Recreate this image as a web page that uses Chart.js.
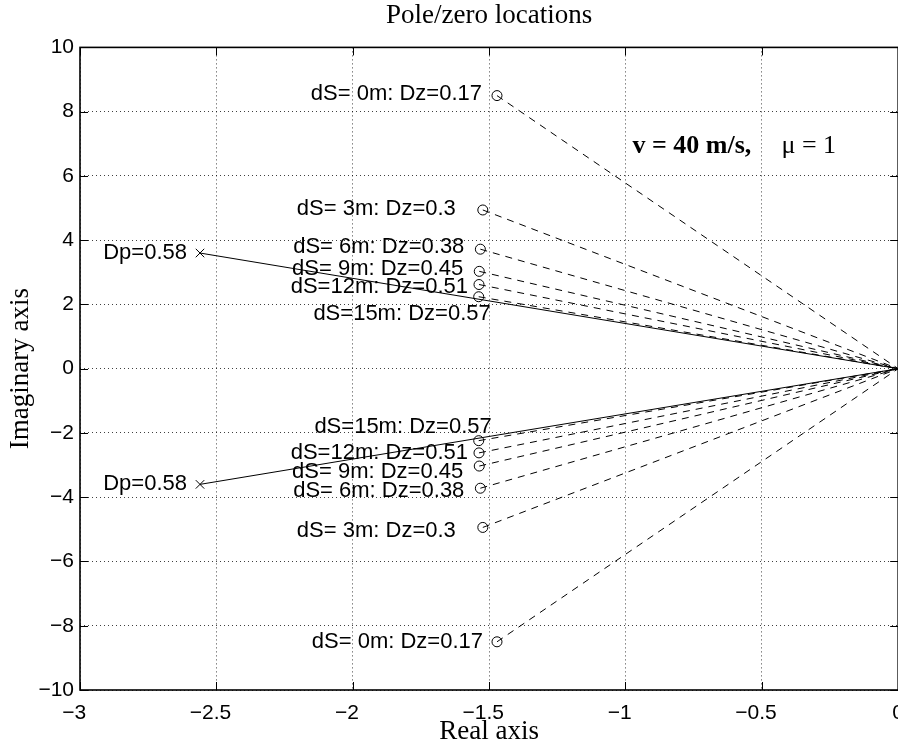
<!DOCTYPE html>
<html>
<head>
<meta charset="utf-8">
<script src="https://cdn.jsdelivr.net/npm/chart.js@4/dist/chart.umd.min.js"></script>
<style>
  html, body { margin: 0; padding: 0; background: #fff; overflow: hidden; }
  /* the plot box runs to the right edge, so the last x label is cut off */
  #wrap { width: 898px; height: 745px; overflow: hidden; }
</style>
</head>
<body>
<div id="wrap"><canvas id="pz" width="915" height="745"></canvas></div>
<script>
// zeros for each sensor distance dS (upper half, then conjugates)
const zeroLabels = [
  'dS= 0m: Dz=0.17', 'dS= 3m: Dz=0.3', 'dS= 6m: Dz=0.38',
  'dS= 9m: Dz=0.45', 'dS=12m: Dz=0.51', 'dS=15m: Dz=0.57',
  'dS= 0m: Dz=0.17', 'dS= 3m: Dz=0.3', 'dS= 6m: Dz=0.38',
  'dS= 9m: Dz=0.45', 'dS=12m: Dz=0.51', 'dS=15m: Dz=0.57'
];
const zeroRe = [-1.471, -1.523, -1.532, -1.536, -1.537, -1.538,
                -1.471, -1.523, -1.532, -1.536, -1.537, -1.538];
const zeroIm = [8.5, 4.94, 3.72, 3.03, 2.62, 2.24,
                -8.5, -4.94, -3.72, -3.03, -2.62, -2.24];

// open-loop pole pair
const poleLabels = ['Dp=0.58', 'Dp=0.58'];
const poleRe = [-2.56, -2.56];
const poleIm = [3.6, -3.6];

const xTicks = [-3, -2.5, -2, -1.5, -1, -0.5, 0];
const yTicks = [-10, -8, -6, -4, -2, 0, 2, 4, 6, 8, 10];

// where each text sits relative to its marker (px): right end, vertical centre
const zeroLabelShift = [
  [-15, -2], [-27, -1], [-16, -2], [-16, -2], [-11, 2], [12, 17],
  [-14, 0], [-27, 4], [-16, 3], [-16, 6], [-11, 0], [13, -14]
];
const poleLabelShift = [[-13, 0], [-13, 0]];

const sans = '"Liberation Sans", Arial, Helvetica, sans-serif';
const serif = '"Liberation Serif", "Times New Roman", Times, serif';
const minus = v => (v < 0 ? '\u2212' + Math.abs(v) : String(v));

const datasets = [];
zeroRe.forEach((re, i) => {
  datasets.push({
    data: [{ x: re, y: zeroIm[i] }, { x: 0, y: 0 }],
    showLine: true, borderColor: '#000', borderWidth: 1,
    borderDash: [7, 6], pointRadius: 0
  });
});
poleRe.forEach((re, i) => {
  datasets.push({
    data: [{ x: re, y: poleIm[i] }, { x: 0, y: 0 }],
    showLine: true, borderColor: '#000', borderWidth: 1, pointRadius: 0
  });
});
datasets.push({
  data: zeroRe.map((re, i) => ({ x: re, y: zeroIm[i] })),
  pointStyle: 'circle', pointRadius: 5, borderWidth: 1,
  borderColor: '#000', backgroundColor: 'rgba(0,0,0,0)'
});
datasets.push({
  data: poleRe.map((re, i) => ({ x: re, y: poleIm[i] })),
  pointStyle: 'crossRot', pointRadius: 6, borderWidth: 1,
  borderColor: '#000', backgroundColor: 'rgba(0,0,0,0)'
});

// text labels go under the lines
const pzLabels = {
  id: 'pzLabels',
  beforeDatasetsDraw(chart) {
    const { ctx, scales: { x, y } } = chart;
    ctx.save();
    ctx.fillStyle = '#000';
    ctx.font = '22px ' + sans;
    ctx.textAlign = 'right';
    ctx.textBaseline = 'middle';
    zeroLabels.forEach((t, i) => {
      ctx.fillText(t, x.getPixelForValue(zeroRe[i]) + zeroLabelShift[i][0],
                      y.getPixelForValue(zeroIm[i]) + zeroLabelShift[i][1]);
    });
    poleLabels.forEach((t, i) => {
      ctx.fillText(t, x.getPixelForValue(poleRe[i]) + poleLabelShift[i][0],
                      y.getPixelForValue(poleIm[i]) + poleLabelShift[i][1]);
    });
    ctx.textAlign = 'left';
    ctx.textBaseline = 'alphabetic';
    ctx.font = 'bold 26px ' + serif;
    ctx.fillText('v = 40 m/s,', x.getPixelForValue(-0.974), y.getPixelForValue(6.7));
    ctx.font = '26px ' + serif;
    ctx.fillText('\u03bc = 1', x.getPixelForValue(-0.428), y.getPixelForValue(6.7));
    ctx.restore();
  }
};

// axes box with inward tick marks
const pzFrame = {
  id: 'pzFrame',
  afterDatasetsDraw(chart) {
    const { ctx, chartArea: a, scales: { x, y } } = chart;
    ctx.save();
    ctx.strokeStyle = '#000';
    ctx.lineWidth = 1;
    ctx.beginPath();
    xTicks.forEach(v => {
      const px = Math.round(x.getPixelForValue(v)) + 0.5;
      ctx.moveTo(px, a.bottom); ctx.lineTo(px, a.bottom - 8);
      ctx.moveTo(px, a.top); ctx.lineTo(px, a.top + 8);
    });
    yTicks.forEach(v => {
      const py = Math.round(y.getPixelForValue(v)) + 0.5;
      ctx.moveTo(a.left, py); ctx.lineTo(a.left + 8, py);
      ctx.moveTo(a.right, py); ctx.lineTo(a.right - 8, py);
    });
    ctx.stroke();
    ctx.lineWidth = 1.6;
    ctx.strokeRect(a.left, a.top, a.right - a.left, a.bottom - a.top);
    ctx.restore();
  }
};

new Chart(document.getElementById('pz'), {
  type: 'scatter',
  data: { datasets: datasets },
  options: {
    responsive: false,
    animation: false,
    events: [],
    layout: { padding: 0 },
    plugins: {
      legend: { display: false },
      tooltip: { enabled: false },
      title: {
        display: true,
        fullSize: false,
        text: 'Pole/zero locations',
        color: '#000',
        font: { family: serif, size: 27, weight: 'normal' },
        padding: { top: 0, bottom: 15 }
      }
    },
    scales: {
      x: {
        type: 'linear', min: -3, max: 0,
        afterBuildTicks: s => { s.ticks = xTicks.map(v => ({ value: v })); },
        afterFit: s => { s.height = 55; },
        ticks: {
          color: '#000', padding: 11, maxRotation: 0, autoSkip: false,
          font: { family: sans, size: 21 },
          // pad negatives so the number sits a little left of its tick
          callback: v => (v < 0 ? minus(v) + '  ' : minus(v))
        },
        grid: { color: 'rgba(0,0,0,0.75)', lineWidth: 1, drawTicks: false },
        border: { display: false, dash: [1, 3] },
        title: {
          display: true, text: 'Real axis', color: '#000',
          font: { family: serif, size: 27, lineHeight: 1 }, padding: { top: 0, bottom: 0 }
        }
      },
      y: {
        type: 'linear', min: -10, max: 10,
        afterBuildTicks: s => { s.ticks = yTicks.map(v => ({ value: v })); },
        afterFit: s => { s.width = 80; },
        ticks: {
          color: '#000', padding: 6, autoSkip: false,
          font: { family: sans, size: 21 },
          callback: v => minus(v)
        },
        grid: { color: 'rgba(0,0,0,0.75)', lineWidth: 1, drawTicks: false },
        border: { display: false, dash: [1, 3] },
        title: {
          display: true, text: 'Imaginary axis', color: '#000',
          font: { family: serif, size: 27, lineHeight: 1 }, padding: { top: 7, bottom: 0 }
        }
      }
    }
  },
  plugins: [pzLabels, pzFrame]
});
</script>
</body>
</html>
